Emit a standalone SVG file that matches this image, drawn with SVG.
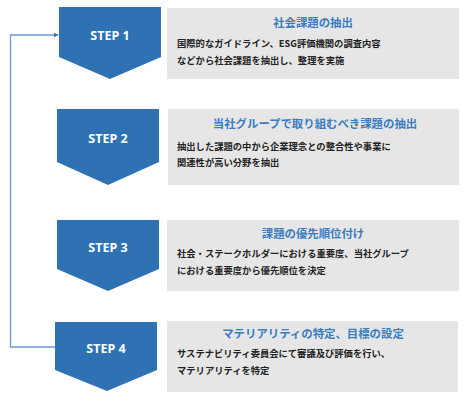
<svg xmlns="http://www.w3.org/2000/svg" width="467" height="407" viewBox="0 0 467 407">
<defs>
<style>
.step{fill:#2e72b4;}
.box{fill:#e6e6e6;}
.lbl{font-family:"Noto Sans","Liberation Sans",sans-serif;font-weight:bold;font-size:12.5px;fill:#ffffff;text-anchor:middle;}
.ttl{font-family:"Noto Sans CJK JP","Noto Sans",sans-serif;font-weight:bold;font-size:11.4px;fill:#3a7cc0;text-anchor:middle;}
.body{font-family:"Noto Sans CJK JP","Noto Sans",sans-serif;font-weight:bold;font-size:9.3px;fill:#222222;}
.conn{fill:none;stroke:#6f9bd2;stroke-width:1.3;}
</style>
<marker id="arr" viewBox="0 0 10 10" refX="9" refY="5" markerWidth="5" markerHeight="5" orient="auto" markerUnits="userSpaceOnUse">
<path d="M0,0 L10,5 L0,10 z" fill="#3a72b8"/>
</marker>
</defs>
<g id="connectors">
<polyline class="conn" points="56,347 10.5,347 10.5,35 58,35" marker-end="url(#arr)"/>
</g>
<g id="step1">
<polygon class="step" points="59,7 161,7 161,57 110,79 59,57"/>
<text class="lbl" x="110" y="40">STEP 1</text>
<rect class="box" x="167" y="8" width="292" height="71"/>
<text class="ttl" x="313" y="27">社会課題の抽出</text>
<text class="body" x="177" y="47">国際的なガイドライン、ESG評価機関の調査内容</text>
<text class="body" x="177" y="64">などから社会課題を抽出し、整理を実施</text>
</g>
<g id="step2">
<polygon class="step" points="57,109 159,109 159,162 108,185 57,162"/>
<text class="lbl" x="108" y="143">STEP 2</text>
<rect class="box" x="168" y="109" width="291" height="76"/>
<text class="ttl" x="315" y="128">当社グループで取り組むべき課題の抽出</text>
<text class="body" x="177" y="150">抽出した課題の中から企業理念との整合性や事業に</text>
<text class="body" x="177" y="166">関連性が高い分野を抽出</text>
</g>
<g id="step3">
<polygon class="step" points="57,220 159,220 159,269 108,291 57,269"/>
<text class="lbl" x="108" y="252">STEP 3</text>
<rect class="box" x="167" y="220" width="292" height="71"/>
<text class="ttl" x="313" y="238">課題の優先順位付け</text>
<text class="body" x="177" y="257">社会・ステークホルダーにおける重要度、当社グループ</text>
<text class="body" x="177" y="274">における重要度から優先順位を決定</text>
</g>
<g id="step4">
<polygon class="step" points="55,322 157,322 157,370 107,391 55,370"/>
<text class="lbl" x="106" y="353">STEP 4</text>
<rect class="box" x="167" y="321" width="291" height="71"/>
<text class="ttl" x="313" y="338">マテリアリティの特定、目標の設定</text>
<text class="body" x="177" y="357">サステナビリティ委員会にて審議及び評価を行い、</text>
<text class="body" x="177" y="374">マテリアリティを特定</text>
</g>
</svg>
